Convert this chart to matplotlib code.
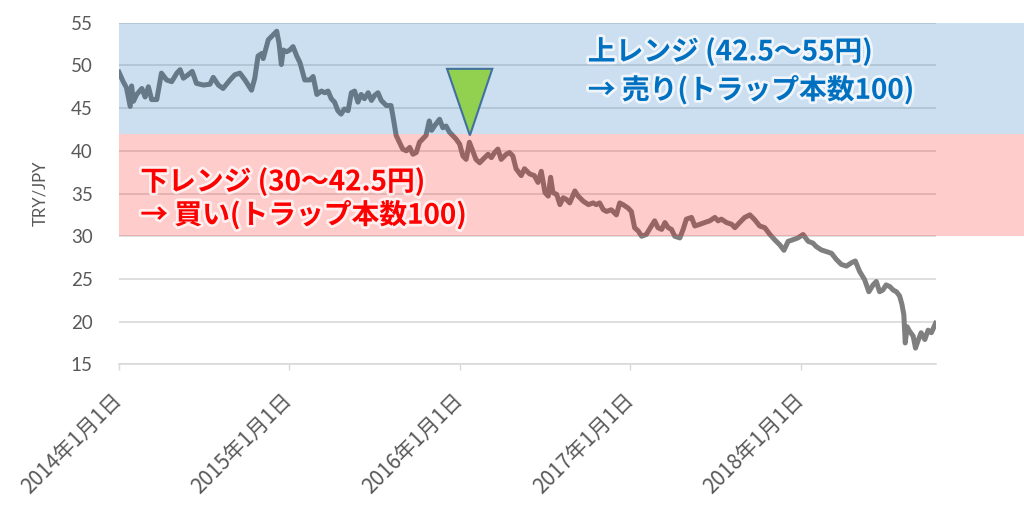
import numpy as np
import pandas as pd
import matplotlib.pyplot as plt
import matplotlib.dates as mdates
import matplotlib.patheffects as pe
from matplotlib.patches import Polygon

plt.rcParams['font.family'] = ['Noto Sans CJK JP', 'DejaVu Sans']

# TRY/JPY (days since 2014-01-01, rate)
start = pd.Timestamp('2014-01-01')
days = [0, 9, 16, 24, 27, 31, 38, 49, 56, 63, 70, 81, 91, 102, 113, 124, 131, 138, 148, 157,
        166, 181, 195, 202, 213, 223, 238, 248, 259, 270, 284, 291, 298, 306, 309, 320, 331, 338,
        343, 348, 352, 359, 366, 373, 381, 388, 398, 409, 416, 424, 434, 441, 448, 455, 462, 469,
        476, 483, 491, 498, 505, 512, 519, 526, 534, 541, 548, 555, 562, 573, 583, 587, 594, 601,
        608, 616, 623, 630, 637, 644, 651, 658, 665, 670, 676, 687, 694, 701, 708, 715, 722, 730,
        737, 744, 751, 758, 765, 773, 780, 791, 798, 805, 812, 819, 830, 837, 844, 851, 862, 869,
        880, 890, 898, 905, 913, 920, 925, 930, 938, 945, 952, 959, 966, 977, 984, 995, 1006, 1016,
        1023, 1030, 1038, 1045, 1055, 1066, 1073, 1080, 1091, 1098, 1105, 1113, 1120, 1130, 1141,
        1148, 1155, 1163, 1170, 1177, 1184, 1191, 1202, 1209, 1216, 1227, 1234, 1245, 1255, 1266,
        1277, 1284, 1291, 1302, 1313, 1320, 1330, 1341, 1352, 1362, 1373, 1384, 1395, 1405, 1416,
        1425, 1434, 1445, 1455, 1466, 1477, 1487, 1494, 1505, 1516, 1527, 1537, 1548, 1559, 1570,
        1578, 1587, 1598, 1607, 1616, 1623, 1630, 1637, 1644, 1652, 1659, 1666, 1673, 1678, 1682,
        1685, 1689, 1694, 1702, 1707, 1712, 1719, 1727, 1734, 1741, 1750]
rate = [49.2, 48.1, 47.4, 45.2, 47.6, 45.8, 46.6, 47.3, 46.3, 47.5, 46.0, 46.0, 49.1, 48.3, 48.1,
        49.1, 49.5, 48.5, 48.9, 49.3, 47.9, 47.7, 47.8, 48.6, 47.7, 47.3, 48.3, 48.9, 49.1, 48.3,
        47.1, 48.5, 51.1, 51.4, 50.8, 53.0, 53.6, 54.0, 52.6, 50.1, 51.8, 51.6, 51.8, 52.2, 51.1,
        50.3, 48.3, 48.3, 48.7, 46.6, 47.0, 46.8, 47.0, 46.1, 45.7, 44.7, 44.3, 44.9, 44.7, 46.8,
        47.0, 45.7, 46.6, 46.1, 46.8, 45.9, 46.5, 46.8, 45.9, 45.3, 45.3, 44.1, 41.8, 41.0, 40.2,
        40.0, 40.4, 39.6, 39.8, 41.0, 41.4, 41.8, 43.5, 42.4, 42.9, 43.7, 42.7, 42.9, 42.2, 41.8,
        41.4, 40.8, 39.4, 39.0, 41.0, 40.0, 39.0, 38.6, 39.0, 39.6, 39.2, 39.8, 40.2, 39.0, 39.6,
        39.8, 39.4, 37.9, 37.1, 37.9, 37.3, 37.1, 36.3, 37.6, 35.1, 34.7, 36.9, 35.1, 34.9, 33.7,
        34.5, 34.3, 33.9, 35.3, 34.7, 34.1, 33.7, 33.9, 33.7, 33.9, 33.1, 32.9, 33.1, 32.5, 33.9,
        33.7, 33.3, 32.9, 31.0, 30.6, 30.0, 30.2, 31.2, 31.8, 31.0, 30.8, 31.6, 31.0, 30.8, 30.0,
        29.8, 30.8, 32.0, 32.2, 31.2, 31.4, 31.6, 31.8, 32.2, 31.8, 32.0, 31.6, 31.4, 31.0, 31.6,
        32.2, 32.5, 31.95, 31.2, 31.0, 30.2, 29.6, 29.0, 28.35, 29.4, 29.6, 29.8, 30.2, 29.4, 29.2,
        28.8, 28.4, 28.2, 28.0, 27.3, 26.7, 26.5, 26.9, 27.1, 25.9, 24.9, 23.5, 24.3, 24.7, 23.5,
        23.7, 24.3, 24.1, 23.7, 23.5, 23.0, 22.0, 20.8, 17.5, 19.4, 18.9, 18.3, 16.9, 17.7, 18.7,
        17.9, 19.0, 18.7, 19.8]

tick_dates = ['2014-01-01', '2015-01-01', '2016-01-01', '2017-01-01', '2018-01-01']
tick_labels = ['2014年1月1日', '2015年1月1日', '2016年1月1日', '2017年1月1日', '2018年1月1日']
y_ticks = [15, 20, 25, 30, 35, 40, 45, 50, 55]

upper_range = (42, 55)
lower_range = (30, 42)
upper_text = ['上レンジ (42.5～55円)', '→ 売り(トラップ本数100)']
lower_text = ['下レンジ (30～42.5円)', '→ 買い(トラップ本数100)']

dates = start + pd.to_timedelta(days, unit='D')

fig = plt.figure(figsize=(10.24, 5.14), dpi=100)
ax = fig.add_axes([0.1162, 0.2912, 0.7979, 0.6646])

ax.plot(dates, rate, color='#7f7f7f', lw=3.6, solid_joinstyle='round', zorder=2)

# range bands, semi transparent over the line, running past the plot edge
ax.axhspan(*upper_range, xmin=0, xmax=1.11, color=(0, 0.39, 0.71), alpha=0.2, lw=0,
           clip_on=False, zorder=3)
ax.axhspan(*lower_range, xmin=0, xmax=1.11, color=(1, 0, 0), alpha=0.2, lw=0,
           clip_on=False, zorder=3)

# green marker triangle
t0 = mdates.date2num(start)
tri = Polygon([[t0 + 703, 49.6], [t0 + 800, 49.6], [t0 + 752, 41.8]], closed=True,
              facecolor='#92d050', edgecolor='#41719c', lw=1.5, zorder=4)
ax.add_patch(tri)

ax.set_xlim(start, start + pd.Timedelta(days=1751))
ax.set_ylim(15, 55)
ax.set_yticks(y_ticks)
ax.set_xticks(pd.to_datetime(tick_dates))
ax.set_xticklabels(tick_labels, rotation=45, ha='right', va='center', rotation_mode='anchor',
                   fontsize=15, color='#595959')
for lab in ax.get_yticklabels():
    lab.set_family('Lato')
ax.tick_params(axis='y', length=0, pad=19, labelsize=13.5, labelcolor='#595959')
ax.tick_params(axis='x', length=4.5, width=1, color='#d9d9d9', pad=19)

ax.grid(axis='y', color='#d9d9d9', lw=1.2, zorder=1)
ax.set_axisbelow(True)
for s in ['top', 'left', 'right']:
    ax.spines[s].set_visible(False)
ax.spines['bottom'].set_color('#d9d9d9')
ax.spines['bottom'].set_linewidth(1.2)

fig.text(0.039, 0.624, 'TRY/JPY', rotation=90, ha='center', va='center',
         fontsize=12, color='#595959', family='Lato')

glow = [pe.withStroke(linewidth=4, foreground='white', alpha=0.7)]
fig.text(0.574, 0.899, upper_text[0], ha='left', va='center', fontsize=20, weight='bold',
         color='#0070c0', path_effects=glow)
fig.text(0.574, 0.825, upper_text[1], ha='left', va='center', fontsize=20, weight='bold',
         color='#0070c0', path_effects=glow)
fig.text(0.137, 0.646, lower_text[0], ha='left', va='center', fontsize=20, weight='bold',
         color='#ff0000', path_effects=glow)
fig.text(0.137, 0.582, lower_text[1], ha='left', va='center', fontsize=20, weight='bold',
         color='#ff0000', path_effects=glow)

fig.savefig('out.png', dpi=100)
